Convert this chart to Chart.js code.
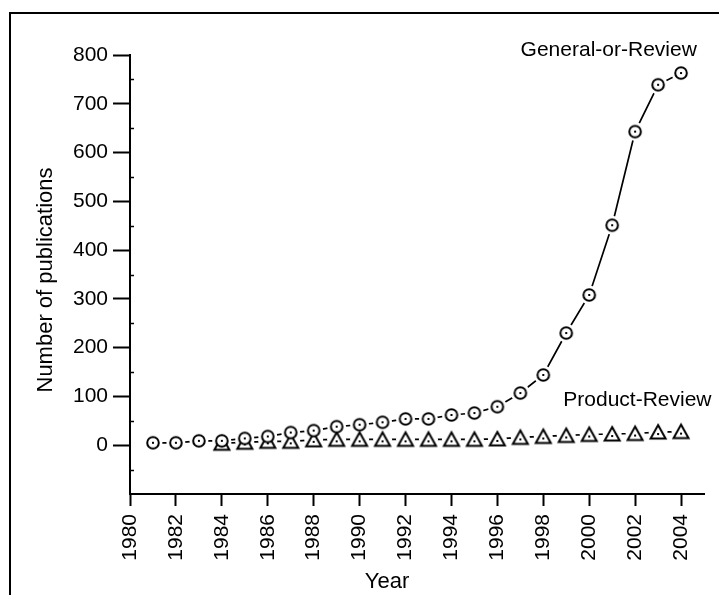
<!DOCTYPE html>
<html>
<head>
<meta charset="utf-8">
<script src="https://cdn.jsdelivr.net/npm/chart.js@4.4.1/dist/chart.umd.min.js"></script>
<style>
html, body { margin: 0; padding: 0; background: #fff; }
</style>
</head>
<body>
<canvas id="chart" width="719" height="595"></canvas>
<script>
const generalYears = [1981, 1982, 1983, 1984, 1985, 1986, 1987, 1988, 1989, 1990, 1991, 1992,
                      1993, 1994, 1995, 1996, 1997, 1998, 1999, 2000, 2001, 2002, 2003, 2004];
const generalCounts = [5, 5, 9, 9, 14, 18, 26, 30, 38, 42, 47, 54,
                       54, 62, 66, 79, 107, 144, 230, 308, 451, 643, 739, 763];
const productYears = [1984, 1985, 1986, 1987, 1988, 1989, 1990, 1991, 1992, 1993, 1994,
                      1995, 1996, 1997, 1998, 1999, 2000, 2001, 2002, 2003, 2004];
const productCounts = [4, 6, 8, 8, 11, 12, 12, 12, 12, 12, 12,
                       12, 13, 16, 18, 20, 22, 23, 24, 27, 28];
const xTickYears = [1980, 1982, 1984, 1986, 1988, 1990, 1992, 1994, 1996, 1998, 2000, 2002, 2004];
const yTickValues = [-100, 0, 100, 200, 300, 400, 500, 600, 700, 800];
const yMinorValues = [-50, 50, 150, 250, 350, 450, 550, 650, 750];

const FONT = "'Liberation Sans', Arial, sans-serif";

// marker pictures: open circle / open triangle with a dot in the middle
function circleMarker() {
    let c = document.createElement("canvas");
    c.width = 18; c.height = 18;
    let g = c.getContext("2d");
    g.beginPath();
    g.arc(9, 9, 5.8, 0, Math.PI * 2);
    g.fillStyle = "#fff";
    g.fill();
    g.lineWidth = 2;
    g.strokeStyle = "#000";
    g.stroke();
    g.fillStyle = "#000";
    g.fillRect(8, 8, 2, 2);
    return c;
}

function triangleMarker() {
    let c = document.createElement("canvas");
    c.width = 20; c.height = 20;
    let g = c.getContext("2d");
    g.beginPath();
    g.moveTo(10, 3);
    g.lineTo(17.5, 16.5);
    g.lineTo(2.5, 16.5);
    g.closePath();
    g.fillStyle = "#fff";
    g.fill();
    g.lineWidth = 2;
    g.strokeStyle = "#000";
    g.stroke();
    g.fillStyle = "#000";
    g.fillRect(9, 11, 2, 2);
    return c;
}

function toPoints(xs, ys) {
    return xs.map((x, i) => ({ x: x, y: ys[i] }));
}

const generalData = toPoints(generalYears, generalCounts);
const productData = toPoints(productYears, productCounts);

// frame, minor ticks and the text labels
const extras = {
    id: "extras",
    beforeDraw(chart) {
        let ctx = chart.ctx;
        ctx.save();
        ctx.fillStyle = "#fff";
        ctx.fillRect(0, 0, chart.width, chart.height);
        ctx.lineWidth = 2;
        ctx.strokeStyle = "#000";
        ctx.strokeRect(10, 13, 760, 640);
        ctx.restore();
    },
    afterDraw(chart) {
        let ctx = chart.ctx;
        let x = chart.scales.x;
        let y = chart.scales.y;
        let area = chart.chartArea;
        ctx.save();
        ctx.strokeStyle = "#000";
        ctx.lineWidth = 1.5;
        yMinorValues.forEach(v => {
            let py = Math.round(y.getPixelForValue(v)) + 0.5;
            ctx.beginPath();
            ctx.moveTo(area.left, py);
            ctx.lineTo(area.left + 4, py);
            ctx.stroke();
        });

        ctx.fillStyle = "#000";
        ctx.font = "21px " + FONT;
        ctx.textAlign = "center";
        ctx.textBaseline = "alphabetic";
        ctx.fillText("General-or-Review", x.getPixelForValue(2000.85), y.getPixelForValue(798));
        ctx.fillText("Product-Review", x.getPixelForValue(2002.1), y.getPixelForValue(80));

        ctx.font = "22px " + FONT;
        ctx.fillText("Year", 387, 588);

        ctx.translate(52, 280);
        ctx.rotate(-Math.PI / 2);
        ctx.fillText("Number of publications", 0, 0);
        ctx.restore();
    }
};

const lineStyle = {
    showLine: true,
    borderColor: "#000",
    borderWidth: 1.7,
    pointRadius: 0,
    tension: 0,
    clip: false,
    order: 3
};
const haloStyle = {
    showLine: false,
    pointRadius: 9.5,
    pointBackgroundColor: "#fff",
    pointBorderWidth: 0,
    clip: false,
    order: 2
};

new Chart(document.getElementById("chart"), {
    type: "scatter",
    data: {
        datasets: [
            Object.assign({ label: "General-or-Review line", data: generalData }, lineStyle),
            Object.assign({ label: "Product-Review line", data: productData }, lineStyle),
            Object.assign({ label: "General-or-Review halo", data: generalData }, haloStyle),
            Object.assign({ label: "Product-Review halo", data: productData }, haloStyle),
            {
                label: "General-or-Review",
                data: generalData,
                showLine: false,
                pointStyle: circleMarker(),
                pointRadius: 9,
                clip: false,
                order: 1
            },
            {
                label: "Product-Review",
                data: productData,
                showLine: false,
                pointStyle: triangleMarker(),
                pointRadius: 10,
                clip: false,
                order: 1
            }
        ]
    },
    options: {
        responsive: false,
        animation: false,
        layout: { padding: { left: 0, top: 55, right: 15, bottom: 0 } },
        plugins: {
            legend: { display: false },
            tooltip: { enabled: false }
        },
        scales: {
            x: {
                type: "linear",
                min: 1980,
                max: 2005,
                afterBuildTicks: s => { s.ticks = xTickYears.map(v => ({ value: v })); },
                afterFit: s => { s.height = 101; },
                border: { display: true, color: "#000", width: 2 },
                grid: { drawOnChartArea: false, drawTicks: true, tickLength: 12, tickWidth: 2, tickColor: "#000" },
                ticks: {
                    autoSkip: false,
                    minRotation: 90,
                    maxRotation: 90,
                    padding: 8,
                    color: "#000",
                    font: { family: FONT, size: 21 },
                    callback: v => String(v)
                }
            },
            y: {
                type: "linear",
                min: -100,
                max: 800,
                afterBuildTicks: s => { s.ticks = yTickValues.map(v => ({ value: v })); },
                afterFit: s => { s.width = 130; },
                border: { display: true, color: "#000", width: 2 },
                grid: {
                    drawOnChartArea: false,
                    drawTicks: true,
                    tickLength: 17,
                    tickWidth: 2,
                    tickColor: c => (c.tick && c.tick.value === -100) ? "rgba(0,0,0,0)" : "#000"
                },
                ticks: {
                    padding: 5,
                    color: "#000",
                    font: { family: FONT, size: 21 },
                    callback: v => (v === -100 ? "" : String(v))
                }
            }
        }
    },
    plugins: [extras]
});
</script>
</body>
</html>
